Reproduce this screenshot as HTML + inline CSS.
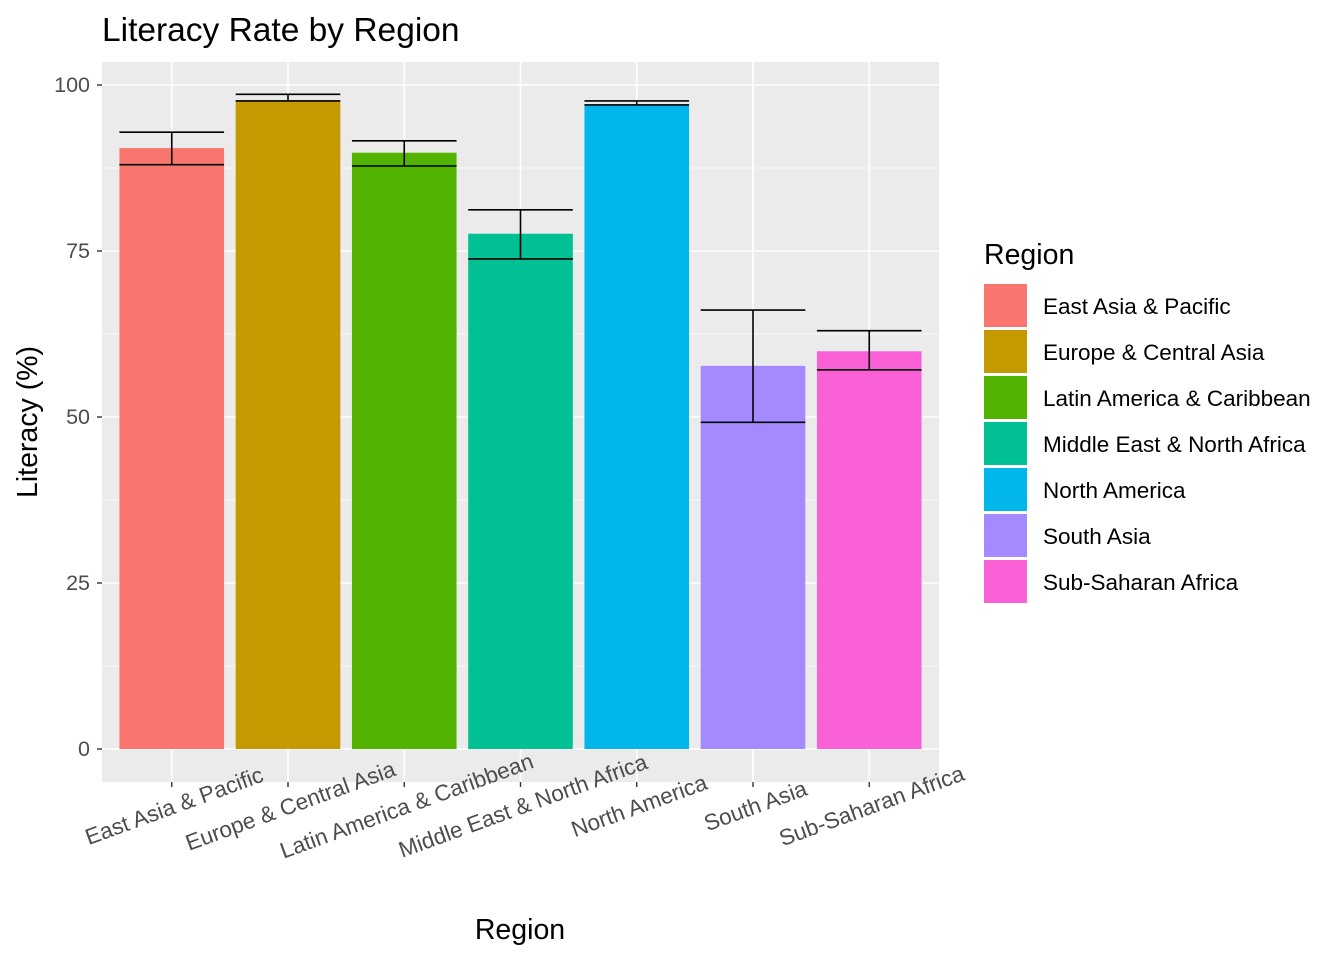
<!DOCTYPE html>
<html><head><meta charset="utf-8"><style>body{margin:0;background:#fff}svg{font-family:"Liberation Sans",Arial,sans-serif}</style></head>
<body>
<svg id="chart" width="1344" height="960"></svg>
<script>
const categories=["East Asia & Pacific","Europe & Central Asia","Latin America & Caribbean","Middle East & North Africa","North America","South Asia","Sub-Saharan Africa"];
const values=[90.5,97.7,89.8,77.6,97.1,57.7,59.9];
const errLow=[88.0,97.6,87.8,73.8,97.0,49.2,57.1];
const errHigh=[92.9,98.6,91.6,81.2,97.6,66.1,63.0];
const colors=["#F8766D","#C49A00","#53B400","#00C094","#00B6EB","#A58AFF","#FB61D7"];
const yTicks=[0,25,50,75,100];
const NS="http://www.w3.org/2000/svg";
const svg=document.getElementById('chart');
const px0=102,px1=939,py0=62,py1=782;
const y=v=>749-(v/100)*664;
const step=(px1-px0)/(categories.length-1+1.2);
const x=i=>px0+step*(0.6+i);
function el(t,a,p){const e=document.createElementNS(NS,t);for(const k in a)e.setAttribute(k,a[k]);(p||svg).appendChild(e);return e;}
const panel=el('rect',{x:px0,y:py0,width:px1-px0,height:py1-py0,fill:'#EBEBEB'});


for(let i=0;i<yTicks.length-1;i++){const m=(yTicks[i]+yTicks[i+1])/2;el('line',{x1:px0,x2:px1,y1:y(m),y2:y(m),stroke:'#fff','stroke-width':0.8});}
yTicks.forEach(t=>{
 el('line',{x1:px0,x2:px1,y1:y(t),y2:y(t),stroke:'#fff','stroke-width':1.6});
 el('line',{x1:px0-5,x2:px0,y1:y(t),y2:y(t),stroke:'#333','stroke-width':1.4});
 const tx=el('text',{x:px0-12,y:y(t)+7,'text-anchor':'end','font-size':21.5,fill:'#4D4D4D'});tx.textContent=t;
 
 
});
const bw=step*0.9;
categories.forEach((c,i)=>{
 el('line',{x1:x(i),x2:x(i),y1:py0,y2:py1,stroke:'#fff','stroke-width':1.6});
});
categories.forEach((c,i)=>{
 const b=el('rect',{x:x(i)-bw/2,y:y(values[i]),width:bw,height:y(0)-y(values[i]),fill:colors[i]});
 
 
 const g=el('g',{stroke:'#000','stroke-width':1.6,fill:'none'});
 
 
 el('line',{x1:x(i)-bw/2,x2:x(i)+bw/2,y1:y(errHigh[i]),y2:y(errHigh[i])},g);
 el('line',{x1:x(i)-bw/2,x2:x(i)+bw/2,y1:y(errLow[i]),y2:y(errLow[i])},g);
 el('line',{x1:x(i),x2:x(i),y1:y(errHigh[i]),y2:y(errLow[i])},g);
 el('line',{x1:x(i),x2:x(i),y1:py1,y2:py1+5,stroke:'#333','stroke-width':1.4});
 const t=el('text',{x:0,y:0,'text-anchor':'middle','font-size':22.5,fill:'#4D4D4D',transform:`translate(${x(i)+5},${py1+31}) rotate(-20)`});
 t.textContent=c;
 
 
});
let t=el('text',{x:102,y:41,'font-size':33.5,fill:'#000'});t.textContent='Literacy Rate by Region';

t=el('text',{x:520,y:939,'text-anchor':'middle','font-size':28.5,fill:'#000'});t.textContent='Region';

t=el('text',{x:0,y:0,'text-anchor':'middle','font-size':28.5,fill:'#000',transform:'translate(37,422) rotate(-90)'});t.textContent='Literacy (%)';

t=el('text',{x:984,y:264,'font-size':28.5,fill:'#000'});t.textContent='Region';

categories.forEach((c,i)=>{
 const g=el('g',{});
 
 
 el('rect',{x:984,y:284+i*46,width:43,height:43,fill:colors[i]},g);
 const tt=el('text',{x:1043,y:314+i*46,'font-size':22.5,fill:'#000'},g);tt.textContent=c;
});
</script>
</body></html>
